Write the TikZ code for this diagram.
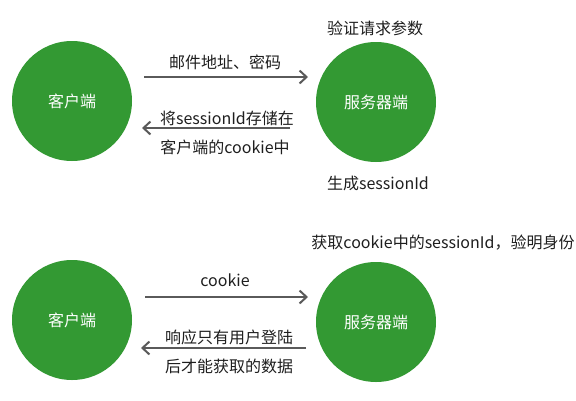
\documentclass[tikz,border=0pt]{standalone}
\usepackage{fontspec}
\setmainfont{Noto Sans CJK SC}
\usetikzlibrary{arrows.meta}
\definecolor{nodegreen}{HTML}{339933}
\definecolor{arrowgray}{HTML}{5A5A5A}
\definecolor{txt}{HTML}{1E1E1E}
\begin{document}
\begin{tikzpicture}[x=1pt,y=-1pt,
  party/.style={circle,fill=nodegreen,minimum size=120pt,inner sep=0pt,text=white,font=\fontsize{16}{19}\selectfont},
  lbl/.style={text=txt,inner sep=0pt,font=\fontsize{16}{19}\selectfont},
  flow/.style={draw=arrowgray,line width=2pt,-{Straight Barb[length=7pt,width=13pt,line width=2pt]}}]
\useasboundingbox (0,0) rectangle (576,400);
% top
\node[party] (c1) at (72,101) {客户端};
\node[party] (s1) at (376,102) {服务器端};
\coordinate (a1s) at (144,77);
\coordinate (a1e) at (308,77);
\coordinate (a2s) at (290,128);
\coordinate (a2e) at (142,128);
\draw[flow] (a1s) -- (a1e);
\draw[flow] (a2s) -- (a2e);
\node[lbl] (l1) at (225,62) {邮件地址、密码};
\node[lbl] (l2) at (227,118) {将sessionId存储在};
\node[lbl] (l3) at (225,147) {客户端的cookie中};
\node[lbl] (l4) at (375,28) {验证请求参数};
\node[lbl] (l5) at (378,183) {生成sessionId};
% bottom
\node[party] (c2) at (72,320) {客户端};
\node[party] (s2) at (376,322) {服务器端};
\coordinate (b1s) at (145,297);
\coordinate (b1e) at (308,297);
\coordinate (b2s) at (306,348);
\coordinate (b2e) at (141,348);
\draw[flow] (b1s) -- (b1e);
\draw[flow] (b2s) -- (b2e);
\node[lbl] (m1) at (225,280) {cookie};
\node[lbl] (m2) at (229,337) {响应只有用户登陆};
\node[lbl] (m3) at (229,366) {后才能获取的数据};
\node[lbl] (m4) at (443,243) {获取cookie中的sessionId，验明身份};
\end{tikzpicture}
\end{document}
